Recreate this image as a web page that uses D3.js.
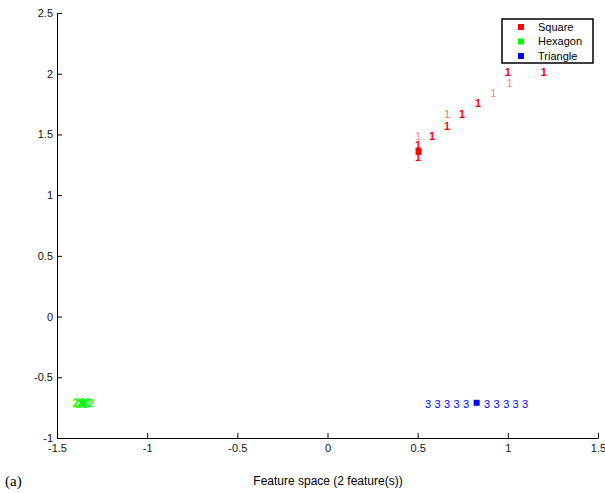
<!DOCTYPE html>
<meta charset="utf-8">
<style>
body { margin: 0; background: #fff; font-family: "Liberation Sans", Arial, sans-serif; }
.tick text { font: 11px "Liberation Sans", Arial, sans-serif; fill: #111; }
.domain, .tick line { stroke: #000; }
</style>
<body>
<script src="https://d3js.org/d3.v7.min.js"></script>
<script>
// class 1 (Square) samples, drawn as "1"
var sqX = [1.00, 1.20, 1.01, 0.92, 0.835, 0.663, 0.746, 0.663, 0.502, 0.58, 0.502, 0.505, 0.502];
var sqY = [2.01, 2.01, 1.92, 1.84, 1.76, 1.67, 1.67, 1.57, 1.49, 1.49, 1.41, 1.36, 1.31];
var sqW = [1, 1, 0.5, 0.5, 1, 0.6, 1, 1, 0.45, 1, 1, 1, 1];
// class 2 (Hexagon) samples, drawn as "2"
var hxX = [-1.40, -1.39, -1.38, -1.37, -1.36, -1.35, -1.34, -1.33, -1.32, -1.31];
var hxY = [-0.71, -0.70, -0.72, -0.71, -0.70, -0.71, -0.72, -0.70, -0.71, -0.71];
// class 3 (Triangle) samples, drawn as "3"
var trX = [0.558, 0.611, 0.663, 0.716, 0.769, 0.885, 0.938, 0.991, 1.043, 1.096];
var trY = [-0.72, -0.72, -0.72, -0.72, -0.72, -0.72, -0.72, -0.72, -0.72, -0.72];
// class means
var meanNames = ["Square", "Hexagon", "Triangle"];
var meanX = [0.505, -1.355, 0.827];
var meanY = [1.36, -0.71, -0.71];
var colors = ["#ff0000", "#00ff00", "#0000ff"];
var xTicks = [-1.5, -1, -0.5, 0, 0.5, 1, 1.5];
var yTicks = [-1, -0.5, 0, 0.5, 1, 1.5, 2, 2.5];

var W = 605, H = 493;
var svg = d3.select("body").append("svg").attr("width", W).attr("height", H);

var x = d3.scaleLinear().domain([-1.5, 1.5]).range([57, 598]);
var y = d3.scaleLinear().domain([-1, 2.5]).range([438, 13]);

// axes, ticks pointing inward
svg.append("g")
    .attr("transform", "translate(0," + y(-1) + ")")
    .call(d3.axisBottom(x).tickValues(xTicks).tickSize(-5).tickSizeOuter(0).tickPadding(4).tickFormat(d => String(d)))
    .call(g => g.selectAll(".tick text").attr("dy", "0.9em"));
svg.append("g")
    .attr("transform", "translate(" + x(-1.5) + ",0)")
    .call(d3.axisLeft(y).tickValues(yTicks).tickSize(-5).tickSizeOuter(0).tickPadding(4).tickFormat(d => String(d)));

function labels(xs, ys, ch, col, ws) {
    svg.append("g").selectAll("text")
        .data(xs)
        .enter().append("text")
        .attr("x", (d, i) => x(d))
        .attr("y", (d, i) => y(ys[i]))
        .attr("dy", "0.36em")
        .attr("text-anchor", "middle")
        .style("font", "11px 'Liberation Sans', Arial, sans-serif")
        .style("font-weight", (d, i) => ws && ws[i] > 0.8 ? "bold" : "normal")
        .attr("fill", col)
        .attr("opacity", (d, i) => ws ? ws[i] : 1)
        .text(ch);
}

labels(hxX, hxY, "2", colors[1]);
labels(trX, trY, "3", colors[2]);
labels(sqX, sqY, "1", colors[0], sqW);

// mean markers
svg.append("g").selectAll("rect")
    .data(meanX)
    .enter().append("rect")
    .attr("x", (d) => x(d) - 3)
    .attr("y", (d, i) => y(meanY[i]) - 3)
    .attr("width", 6).attr("height", 6)
    .attr("fill", (d, i) => colors[i]);

// legend
var lg = svg.append("g").attr("transform", "translate(502,19)");
lg.append("rect").attr("width", 91).attr("height", 44)
    .attr("fill", "#fff").attr("stroke", "#000").attr("stroke-width", 1.5);
meanNames.forEach(function (n, i) {
    lg.append("rect").attr("x", 16).attr("y", 5 + i * 14.5).attr("width", 6).attr("height", 6)
        .attr("fill", colors[i]);
    lg.append("text").attr("x", 36).attr("y", 8 + i * 14.5).attr("dy", "0.36em")
        .style("font", "11px 'Liberation Sans', Arial, sans-serif")
        .text(n);
});

// axis title and panel label
svg.append("text").attr("x", 328).attr("y", 485)
    .attr("text-anchor", "middle")
    .style("font", "12px 'Liberation Sans', Arial, sans-serif")
    .text("Feature space (2 feature(s))");
svg.append("text").attr("x", 5).attr("y", 486)
    .style("font", "15px 'Liberation Serif', 'Times New Roman', serif")
    .text("(a)");
</script>
</body>
